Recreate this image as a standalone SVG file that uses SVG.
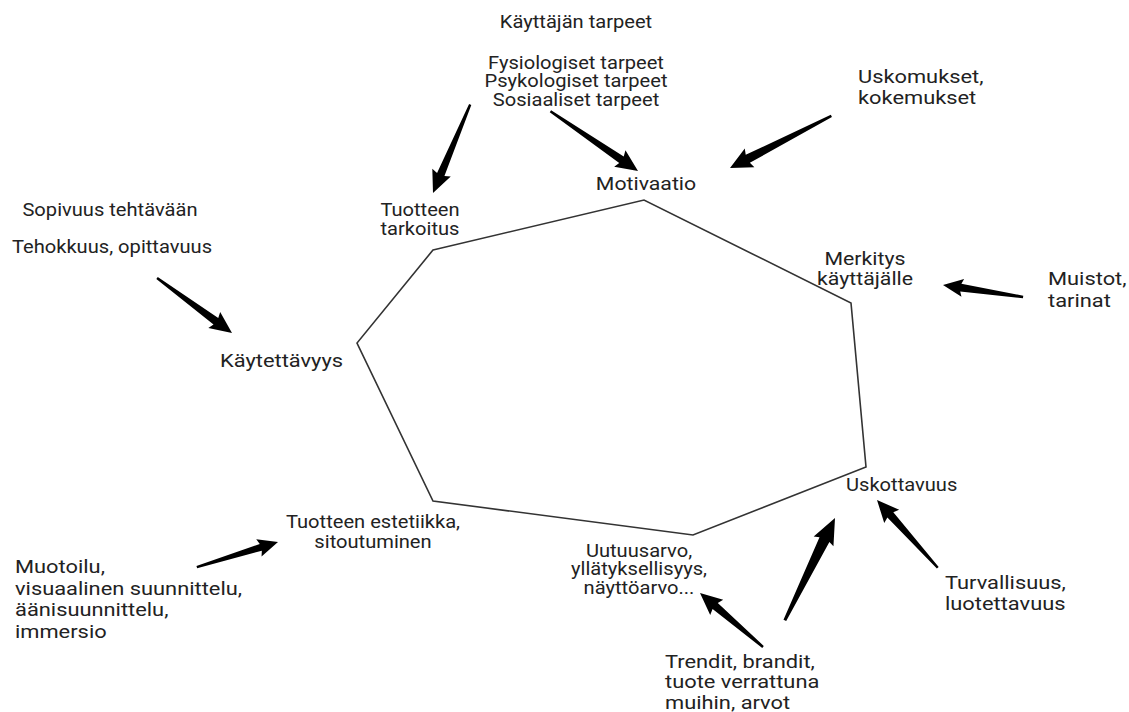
<svg xmlns="http://www.w3.org/2000/svg" width="1129" height="712" viewBox="0 0 1129 712">
<style>
text{font-family:Roboto,"Liberation Sans",sans-serif;fill:#222;}
.s{font-size:17.5px;}
.l{font-size:19px;}
.m{font-size:18.5px;}
.c{text-anchor:middle;}
.arr{fill:#000;stroke:none;}
.poly{fill:none;stroke:#333;stroke-width:1.6;stroke-linejoin:miter;}
</style>
<rect width="1129" height="712" fill="#fff"/>
<polygon class="poly" points="433,250 644,200 851,303 866,467 693,535 433,501 357,343"/>

<g id="connectors">
<path class="arr" transform="translate(433,193) rotate(112.8)" d="M -96,-1.2 L -20,-4 L -22,-10 L 0,0 L -22,10 L -20,4 L -96,1.2 Z"/>
<path class="arr" transform="translate(638,171) rotate(34.3)" d="M -106,-1.2 L -20,-4 L -22,-10 L 0,0 L -22,10 L -20,4 L -106,1.2 Z"/>
<path class="arr" transform="translate(730,168) rotate(152.8)" d="M -114,-1.2 L -20,-4.5 L -22,-10.5 L 0,0 L -22,10.5 L -20,4.5 L -114,1.2 Z"/>
<path class="arr" transform="translate(943,285) rotate(-171.5)" d="M -81,-1.2 L -18,-4 L -20,-9 L 0,0 L -20,9 L -18,4 L -81,1.2 Z"/>
<path class="arr" transform="translate(232,333) rotate(36.3)" d="M -93,-1.2 L -20,-4 L -22,-10 L 0,0 L -22,10 L -20,4 L -93,1.2 Z"/>
<path class="arr" transform="translate(278,542) rotate(-17.2)" d="M -85,-1.2 L -18,-3.5 L -20,-9 L 0,0 L -20,9 L -18,3.5 L -85,1.2 Z"/>
<path class="arr" transform="translate(700,593) rotate(-139.4)" d="M -83,-1.2 L -20,-4 L -22,-10 L 0,0 L -22,10 L -20,4 L -83,1.2 Z"/>
<path class="arr" transform="translate(835,518) rotate(-63.9)" d="M -114,-1.5 L -24,-5.5 L -26,-11 L 0,0 L -26,11 L -24,5.5 L -114,1.5 Z"/>
<path class="arr" transform="translate(877,500) rotate(-131.9)" d="M -91,-1.2 L -20,-4 L -22,-10 L 0,0 L -22,10 L -20,4 L -91,1.2 Z"/>
</g>

<g id="kayttajan-tarpeet">
<text class="s c" transform="translate(576,28) scale(1.15,1)">Käyttäjän tarpeet</text>
<text class="s c" transform="translate(576,69) scale(1.15,1)"><tspan x="0">Fysiologiset tarpeet</tspan><tspan x="0" dy="18.3">Psykologiset tarpeet</tspan><tspan x="0" dy="18.3">Sosiaaliset tarpeet</tspan></text>
</g>
<g id="motivaatio">
<text class="m c" transform="translate(646,190) scale(1.15,1)">Motivaatio</text>
</g>
<g id="uskomukset">
<text class="l" transform="translate(858,83) scale(1.15,1)"><tspan x="0">Uskomukset,</tspan><tspan x="0" dy="21">kokemukset</tspan></text>
</g>
<g id="tuotteen-tarkoitus">
<text class="s c" transform="translate(420,216) scale(1.15,1)"><tspan x="0">Tuotteen</tspan><tspan x="0" dy="19">tarkoitus</tspan></text>
</g>
<g id="sopivuus">
<text class="s c" transform="translate(110,216) scale(1.15,1)">Sopivuus tehtävään</text>
<text class="s c" transform="translate(112,253) scale(1.15,1)">Tehokkuus, opittavuus</text>
</g>
<g id="kaytettavyys">
<text class="l" transform="translate(220,367) scale(1.15,1)">Käytettävyys</text>
</g>
<g id="merkitys">
<text class="m c" transform="translate(865,265) scale(1.15,1)"><tspan x="0">Merkitys</tspan><tspan x="0" dy="20">käyttäjälle</tspan></text>
</g>
<g id="muistot">
<text class="l" transform="translate(1048,285) scale(1.15,1)"><tspan x="0">Muistot,</tspan><tspan x="0" dy="22">tarinat</tspan></text>
</g>
<g id="uskottavuus">
<text class="s" transform="translate(846,491) scale(1.15,1)">Uskottavuus</text>
</g>
<g id="tuotteen-estetiikka">
<text class="s c" transform="translate(373,528) scale(1.15,1)"><tspan x="0">Tuotteen estetiikka,</tspan><tspan x="0" dy="20">sitoutuminen</tspan></text>
</g>
<g id="muotoilu">
<text class="l" transform="translate(15,573) scale(1.15,1)"><tspan x="0">Muotoilu,</tspan><tspan x="0" dy="21.7">visuaalinen suunnittelu,</tspan><tspan x="0" dy="21.7">äänisuunnittelu,</tspan><tspan x="0" dy="21.7">immersio</tspan></text>
</g>
<g id="uutuusarvo">
<text class="s c" transform="translate(639,557) scale(1.15,1)"><tspan x="0">Uutuusarvo,</tspan><tspan x="0" dy="18.5">yllätyksellisyys,</tspan><tspan x="0" dy="18.5">näyttöarvo...</tspan></text>
</g>
<g id="turvallisuus">
<text class="l" transform="translate(945,589) scale(1.15,1)"><tspan x="0">Turvallisuus,</tspan><tspan x="0" dy="21">luotettavuus</tspan></text>
</g>
<g id="trendit">
<text class="l" transform="translate(665,668) scale(1.15,1)"><tspan x="0">Trendit, brandit,</tspan><tspan x="0" dy="20.5">tuote verrattuna</tspan><tspan x="0" dy="20.5">muihin, arvot</tspan></text>
</g>
</svg>
